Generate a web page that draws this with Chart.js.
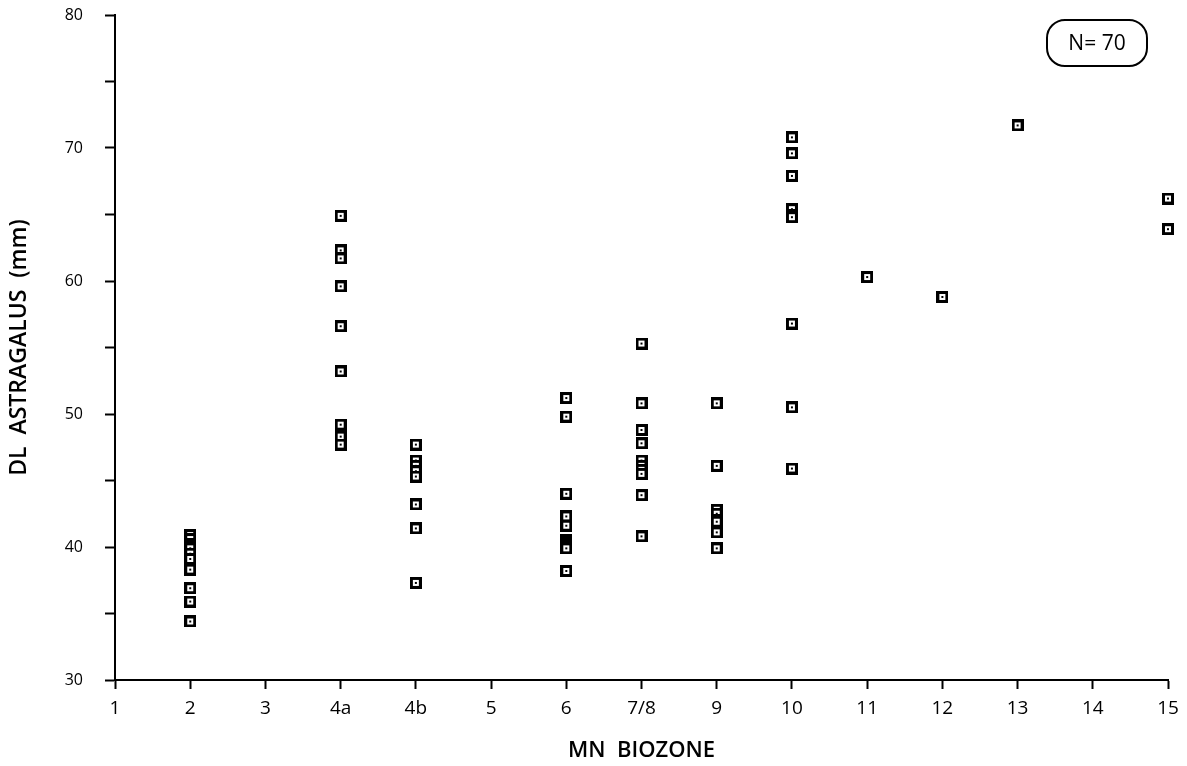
<!DOCTYPE html>
<html>
<head>
<meta charset="utf-8">
<script src="https://cdn.jsdelivr.net/npm/chart.js@4"></script>
<style>
  html, body { margin: 0; padding: 0; background: #fff; }
  #wrap { width: 1187px; height: 766px; position: relative; }
</style>
</head>
<body>
<div id="wrap"><canvas id="biozoneChart" width="1187" height="766"></canvas></div>
<script>
// MN biozone tick labels (one slot per zone)
const zoneLabels = ["1", "2", "3", "4a", "4b", "5", "6", "7/8", "9", "10", "11", "12", "13", "14", "15"];

// DL astragalus (mm) per zone
const zone2 = [40.9, 40.6, 40.2, 40.0, 39.9, 39.5, 39.1, 38.3, 36.9, 35.9, 34.4];
const zone4a = [64.9, 62.3, 61.7, 59.6, 56.6, 53.2, 49.2, 48.3, 47.7];
const zone4b = [47.7, 46.5, 46.1, 45.7, 45.3, 43.2, 41.4, 37.3];
const zone6 = [51.2, 49.8, 44.0, 42.3, 41.6, 40.5, 40.3, 40.1, 39.9, 38.2];
const zone78 = [55.3, 50.8, 48.8, 47.8, 46.5, 46.1, 45.8, 45.5, 43.9, 40.8];
const zone9 = [50.8, 46.1, 42.8, 42.5, 42.0, 41.9, 41.1, 39.9];
const zone10 = [70.8, 69.6, 67.9, 65.4, 65.0, 64.8, 56.8, 50.5, 45.9];
const zone11 = [60.3];
const zone12 = [58.8];
const zone13 = [71.7];
const zone15 = [66.2, 63.9];

const yTicks = [30, 40, 50, 60, 70, 80];

// build scatter points from the arrays above
const groups = [["2", zone2], ["4a", zone4a], ["4b", zone4b], ["6", zone6], ["7/8", zone78],
                ["9", zone9], ["10", zone10], ["11", zone11], ["12", zone12], ["13", zone13], ["15", zone15]];
const points = [];
groups.forEach(([zone, vals]) => {
    const xi = zoneLabels.indexOf(zone);
    vals.forEach(v => points.push({ x: xi, y: v }));
});

// open square marker with a dot in the middle
function makeMarker() {
    const c = document.createElement("canvas");
    c.width = 12; c.height = 12;
    const g = c.getContext("2d");
    g.fillStyle = "#000"; g.fillRect(0, 0, 12, 12);
    g.fillStyle = "#fff"; g.fillRect(3, 3, 6, 6);
    g.fillStyle = "#000"; g.fillRect(5, 5, 2, 2);
    return c;
}

const FONT = "'Open Sans', 'DejaVu Sans', sans-serif";

// the "N= 70" rounded box in the top right corner
const countBox = {
    id: "countBox",
    afterDraw(chart) {
        const ctx = chart.ctx;
        const x = 1047, y = 20, w = 100, h = 46, r = 18;
        ctx.save();
        ctx.strokeStyle = "#000";
        ctx.lineWidth = 2;
        ctx.beginPath();
        ctx.roundRect(x, y, w, h, r);
        ctx.stroke();
        ctx.fillStyle = "#000";
        ctx.font = "21px " + FONT;
        ctx.textAlign = "center";
        ctx.textBaseline = "middle";
        ctx.fillText("N= " + points.length, x + w / 2, y + h / 2 + 1);
        ctx.restore();
    }
};

const ctx = document.getElementById("biozoneChart").getContext("2d");
new Chart(ctx, {
    type: "scatter",
    data: {
        datasets: [{
            data: points,
            pointStyle: makeMarker(),
            pointRadius: 6,
            clip: false
        }]
    },
    options: {
        responsive: false,
        animation: false,
        layout: { padding: { top: 15, right: 19, left: 0, bottom: 0 } },
        plugins: { legend: { display: false }, tooltip: { enabled: false } },
        scales: {
            x: {
                type: "linear",
                min: 0,
                max: zoneLabels.length - 1,
                afterFit(scale) { scale.height = 86; scale.paddingLeft = 0; scale.paddingRight = 0; },
                afterBuildTicks(scale) {
                    scale.ticks = zoneLabels.map((_, i) => ({ value: i }));
                },
                border: { color: "#000", width: 2 },
                grid: { drawOnChartArea: false, color: "#000", tickLength: 9, tickWidth: 2 },
                ticks: {
                    color: "#000",
                    font: { family: FONT, size: 19 },
                    padding: 8,
                    maxRotation: 0,
                    autoSkip: false,
                    callback: v => zoneLabels[v]
                },
                title: {
                    display: true,
                    text: "MN  BIOZONE",
                    color: "#000",
                    font: { family: FONT, size: 22, weight: "600" },
                    padding: { top: 6, bottom: 2 }
                }
            },
            y: {
                min: 30,
                max: 80,
                afterFit(scale) { scale.width = 115; scale.paddingTop = 0; scale.paddingBottom = 0; },
                afterBuildTicks(scale) {
                    const t = [];
                    for (let v = 30; v <= 80; v += 5) t.push({ value: v });
                    scale.ticks = t;
                },
                border: { color: "#000", width: 2 },
                grid: { drawOnChartArea: false, color: "#000", tickLength: 10, tickWidth: 2 },
                ticks: {
                    color: "#000",
                    font: { family: FONT, size: 16 },
                    padding: 22,
                    callback: v => yTicks.includes(v) ? String(v) : ""
                },
                title: {
                    display: true,
                    text: "DL  ASTRAGALUS  (mm)",
                    color: "#000",
                    font: { family: FONT, size: 23, weight: "600" },
                    padding: { top: 6, bottom: 0 }
                }
            }
        }
    },
    plugins: [countBox]
});
</script>
</body>
</html>
